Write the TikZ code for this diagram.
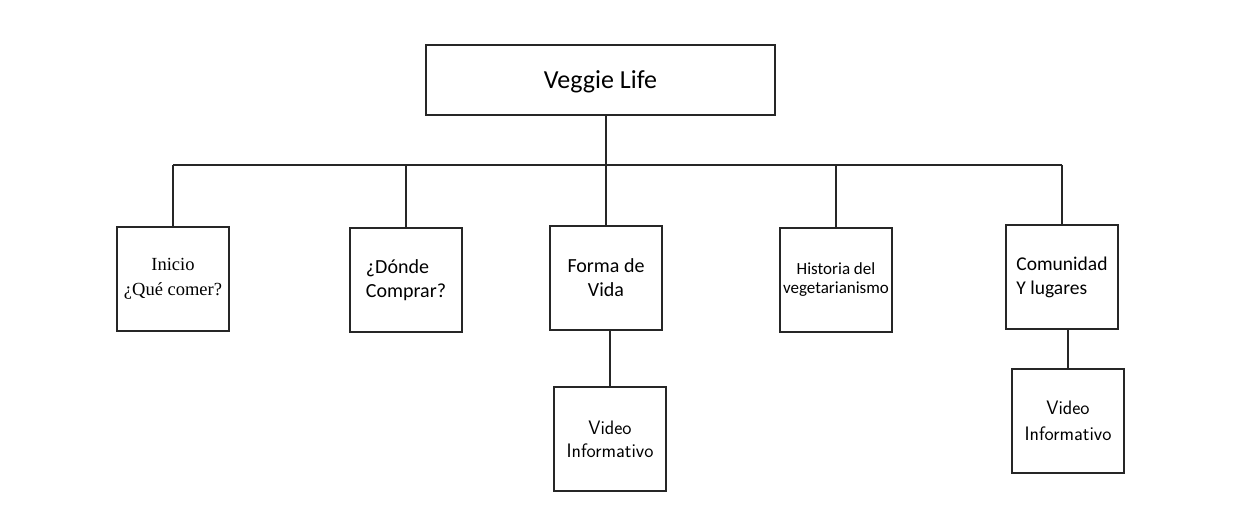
\documentclass[tikz,border=0pt]{standalone}
\usepackage{fontspec}
\newfontfamily\calibri{Carlito}
\newfontfamily\cambria{Liberation Serif}
\begin{document}
\begin{tikzpicture}[x=1pt,y=-1pt,
  box/.style={draw=black!85,line width=2pt,inner sep=0pt,minimum width=112pt,minimum height=104pt,align=center},
  link/.style={draw=black!85,line width=2pt}]
\useasboundingbox[fill=white] (0,0) rectangle (1254,524);
\node[box,minimum width=349pt,minimum height=70pt,font=\calibri\fontsize{26}{31}\selectfont,text depth=-2pt] (top) at (600.5,80) {Veggie Life};
\node[box,font=\cambria\fontsize{18.5}{25}\selectfont] (inicio) at (173,279) {Inicio\\¿Qué comer?};
\node[box,align=left,font=\calibri\fontsize{20}{23.5}\selectfont] (donde) at (406,280) {¿Dónde\\Comprar?};
\node[box,font=\calibri\fontsize{20}{24}\selectfont] (forma) at (606,278) {Forma de\\Vida};
\node[box,font=\calibri\fontsize{17}{19}\selectfont] (historia) at (836,280) {Historia del\\vegetarianismo};
\node[box,align=left,font=\calibri\fontsize{19.5}{24}\selectfont] (comunidad) at (1062,277) {Comunidad\\Y lugares};
\node[box,font=\sffamily\fontsize{19.5}{23}\selectfont] (video1) at (610,439) {Video\\Informativo};
\node[box,font=\sffamily\fontsize{19.5}{26}\selectfont] (video2) at (1068,421) {Video\\Informativo};
\coordinate (bus) at (0,165);
\draw[link] (top.south -| forma.north) -- (forma.north);
\draw[link] (inicio.north |- bus) -- (comunidad.north |- bus);
\draw[link] (inicio.north |- bus) -- (inicio.north);
\draw[link] (donde.north |- bus) -- (donde.north);
\draw[link] (historia.north |- bus) -- (historia.north);
\draw[link] (comunidad.north |- bus) -- (comunidad.north);
\draw[link] (forma.south -| video1.north) -- (video1.north);
\draw[link] (comunidad.south -| video2.north) -- (video2.north);
\end{tikzpicture}
\end{document}
